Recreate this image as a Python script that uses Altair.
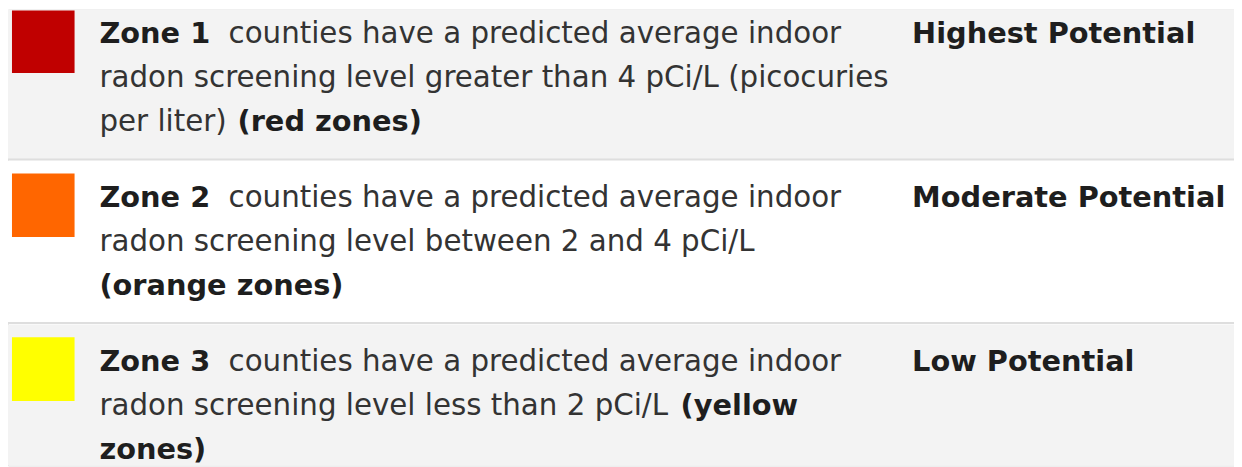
import altair as alt
import pandas as pd

# ---- content ----
zones = ["Zone 1", "Zone 2", "Zone 3"]
zone_colors = ["#c00000", "#ff6600", "#ffff00"]
potentials = ["Highest Potential", "Moderate Potential", "Low Potential"]
row_fills = ["#f3f3f3", "#ffffff", "#f3f3f3"]

# description segments: (row, line, text, bold, x-start)
seg_row = [0, 0, 0, 0, 0,
           1, 1, 1, 1,
           2, 2, 2, 2, 2]
seg_line = [0, 1, 2, 2, 0,
            0, 1, 2, 0,
            0, 1, 1, 2, 0]
seg_text = ["counties have a predicted average indoor",
            "radon screening level greater than 4 pCi/L (picocuries",
            "per liter)", "(red zones)", "",
            "counties have a predicted average indoor",
            "radon screening level between 2 and 4 pCi/L",
            "(orange zones)", "",
            "counties have a predicted average indoor",
            "radon screening level less than 2 pCi/L",
            "(yellow", "zones)", ""]
seg_bold = [False, False, False, True, True,
            False, False, True, True,
            False, False, True, True, True]
seg_x = [230, 100, 100, 239, 100,
         230, 100, 100, 100,
         230, 100, 685, 100, 100]

# ---- layout constants (pixels of the picture) ----
W, H = 1242, 467
M = 8
ROW_TOP = [M, 160, 325]
ROW_BOT = [159, 323, H]
SEP_Y = [159, 323.5]
FIRST_BASE = [42, 207, 372]
LINE_H = 44
FONT = "DejaVu Sans"
FS_REG = 29.5
FS_BOLD = 29

# fill the empty bold slot with zone names
for i in range(len(seg_text)):
    if seg_text[i] == "":
        seg_text[i] = zones[seg_row[i]]

xs = alt.Scale(domain=[M, W], nice=False, zero=False)
ys = alt.Scale(domain=[H, M], nice=False, zero=False)

bg = pd.DataFrame({
    "x0": [M] * 3, "x1": [W] * 3,
    "y0": ROW_TOP, "y1": ROW_BOT, "fill": row_fills,
})
bg_layer = alt.Chart(bg).mark_rect().encode(
    x=alt.X("x0:Q", scale=xs, axis=None), x2="x1:Q",
    y=alt.Y("y0:Q", scale=ys, axis=None), y2="y1:Q",
    color=alt.Color("fill:N", scale=None),
)

sep = pd.DataFrame({"y": SEP_Y, "x0": [M, M], "x1": [W, W]})
sep_layer = alt.Chart(sep).mark_rule(color="#dedede", strokeWidth=2).encode(
    x=alt.X("x0:Q", scale=xs, axis=None), x2="x1:Q",
    y=alt.Y("y:Q", scale=ys, axis=None),
)

sw = pd.DataFrame({
    "x0": [12] * 3, "x1": [75] * 3,
    "y0": [9, 173, 338],
    "y1": [72, 237, 402],
    "c": zone_colors,
})
sw_layer = alt.Chart(sw).mark_rect().encode(
    x=alt.X("x0:Q", scale=xs, axis=None), x2="x1:Q",
    y=alt.Y("y0:Q", scale=ys, axis=None), y2="y1:Q",
    color=alt.Color("c:N", scale=None),
)

segs = pd.DataFrame({
    "text": seg_text,
    "x": seg_x,
    "y": [FIRST_BASE[r] + l * LINE_H for r, l in zip(seg_row, seg_line)],
    "bold": seg_bold,
})
reg = alt.Chart(segs[~segs["bold"]]).mark_text(
    align="left", baseline="alphabetic", font=FONT, fontSize=FS_REG, color="#333333"
).encode(
    x=alt.X("x:Q", scale=xs, axis=None),
    y=alt.Y("y:Q", scale=ys, axis=None),
    text="text:N",
)
bld = alt.Chart(segs[segs["bold"]]).mark_text(
    align="left", baseline="alphabetic", font=FONT, fontSize=FS_BOLD,
    fontWeight="bold", color="#1e1e1e"
).encode(
    x=alt.X("x:Q", scale=xs, axis=None),
    y=alt.Y("y:Q", scale=ys, axis=None),
    text="text:N",
)

pot = pd.DataFrame({"text": potentials, "x": [918] * 3, "y": FIRST_BASE})
pot_layer = alt.Chart(pot).mark_text(
    align="left", baseline="alphabetic", font=FONT, fontSize=FS_BOLD,
    fontWeight="bold", color="#1e1e1e"
).encode(
    x=alt.X("x:Q", scale=xs, axis=None),
    y=alt.Y("y:Q", scale=ys, axis=None),
    text="text:N",
)

chart = alt.layer(bg_layer, sep_layer, sw_layer, reg, bld, pot_layer).properties(
    width=W - M, height=H - M, padding=0,
    autosize=alt.AutoSizeParams(type="none"),
).configure_view(stroke=None).configure(background="#ffffff")

chart.save("out.html", embed_options={"renderer": "svg", "actions": False})
